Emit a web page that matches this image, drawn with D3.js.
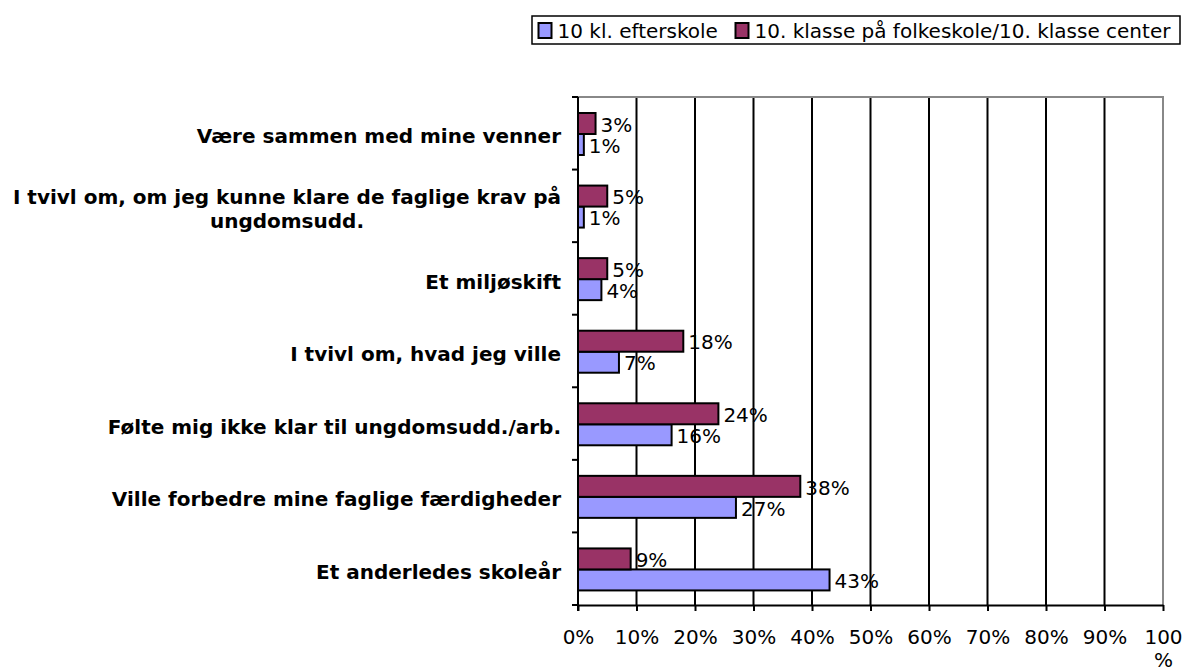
<!DOCTYPE html>
<html>
<head>
<meta charset="utf-8">
<script src="https://cdn.jsdelivr.net/npm/d3@7"></script>
<style>
  body { margin: 0; background: #fff; }
  text { font-family: "DejaVu Sans", Verdana, sans-serif; }
</style>
</head>
<body>
<script>
var categories = [
    ['Være sammen med mine venner'],
    ['I tvivl om, om jeg kunne klare de faglige krav på', 'ungdomsudd.'],
    ['Et miljøskift'],
    ['I tvivl om, hvad jeg ville'],
    ['Følte mig ikke klar til ungdomsudd./arb.'],
    ['Ville forbedre mine faglige færdigheder'],
    ['Et anderledes skoleår']
];
var seriesNames = ['10 kl. efterskole', '10. klasse på folkeskole/10. klasse center'];
var efterskole = [1, 1, 4, 7, 16, 27, 43];
var folkeskole = [3, 5, 5, 18, 24, 38, 9];
var tickValues = [0, 10, 20, 30, 40, 50, 60, 70, 80, 90, 100];
var colors = ['#9999ff', '#993366'];

var w = 1183, h = 671;
var pLeft = 578, pRight = 1163, pTop = 97, pBottom = 605;

var svg = d3.select('body').append('svg')
    .attr('width', w)
    .attr('height', h);

var x = d3.scaleLinear().domain([0, 100]).range([pLeft, pRight]);
var y = d3.scaleBand().domain(d3.range(categories.length)).range([pTop, pBottom]);
// maroon bar above blue bar in each group
var inner = d3.scaleBand().domain([1, 0]).range([16, 58]);

// gridlines
svg.selectAll('.grid')
    .data(tickValues.slice(1, -1))
    .enter().append('line')
    .attr('x1', function (d) { return x(d); })
    .attr('x2', function (d) { return x(d); })
    .attr('y1', pTop).attr('y2', pBottom)
    .attr('stroke', '#000').attr('stroke-width', 2);

// plot border (gray top/right)
svg.append('path')
    .attr('d', 'M' + pLeft + ',' + pTop + 'H' + pRight + 'V' + pBottom)
    .attr('fill', 'none').attr('stroke', '#888').attr('stroke-width', 2);

// bars
var rows = categories.map(function (c, i) {
    return [{ s: 0, v: efterskole[i], i: i }, { s: 1, v: folkeskole[i], i: i }];
});
var groups = svg.selectAll('.grp')
    .data(rows)
    .enter().append('g')
    .attr('transform', function (d, i) { return 'translate(0,' + y(i) + ')'; });

groups.selectAll('rect')
    .data(function (d) { return d; })
    .enter().append('rect')
    .attr('x', x(0))
    .attr('y', function (d) { return inner(d.s); })
    .attr('width', function (d) { return x(d.v) - x(0); })
    .attr('height', inner.bandwidth())
    .attr('fill', function (d) { return colors[d.s]; })
    .attr('stroke', '#000').attr('stroke-width', 2);

groups.selectAll('.val')
    .data(function (d) { return d; })
    .enter().append('text')
    .attr('x', function (d) { return x(d.v) + 5; })
    .attr('y', function (d) { return inner(d.s) + inner.bandwidth() / 2 + 1; })
    .attr('dy', '0.36em')
    .attr('font-size', 20)
    .text(function (d) { return d.v + '%'; });

// y axis with boundary ticks
svg.append('line')
    .attr('x1', pLeft).attr('x2', pLeft).attr('y1', pTop).attr('y2', pBottom + 6)
    .attr('stroke', '#000').attr('stroke-width', 2);
svg.selectAll('.ytick')
    .data(d3.range(categories.length + 1))
    .enter().append('line')
    .attr('x1', pLeft - 6).attr('x2', pLeft)
    .attr('y1', function (d) { return pTop + d * y.bandwidth(); })
    .attr('y2', function (d) { return pTop + d * y.bandwidth(); })
    .attr('stroke', '#000').attr('stroke-width', 2);

// category labels
categories.forEach(function (lines, i) {
    var cy = y(i) + y.bandwidth() / 2 + 3;
    var lh = 24;
    var t = svg.append('text')
        .attr('font-size', 20).attr('font-weight', 'bold')
        .attr('text-anchor', 'end');
    lines.forEach(function (l, k) {
        t.append('tspan')
            .attr('x', 561)
            .attr('y', cy + (k - (lines.length - 1) / 2) * lh)
            .attr('dy', '0.36em')
            .text(l);
    });
    if (lines.length > 1) {
        // centre each line inside the block
        var maxW = 0;
        t.selectAll('tspan').each(function () { maxW = Math.max(maxW, this.getComputedTextLength()); });
        t.attr('text-anchor', 'middle');
        t.selectAll('tspan').attr('x', 561 - maxW / 2);
    }
});

// x axis
var xAxis = svg.append('g')
    .attr('transform', 'translate(0,' + pBottom + ')')
    .call(d3.axisBottom(x).tickValues(tickValues).tickSize(6).tickSizeOuter(0)
        .tickFormat(function (d) { return d === 100 ? '100' : d + '%'; }));
xAxis.select('.domain').attr('stroke', '#000').attr('stroke-width', 2);
xAxis.selectAll('.tick line').attr('stroke', '#000').attr('stroke-width', 2);
xAxis.selectAll('.tick text')
    .attr('font-family', '"DejaVu Sans", Verdana, sans-serif')
    .attr('font-size', 20).attr('fill', '#000').attr('y', 32).attr('dy', '0.36em');
xAxis.selectAll('.tick').filter(function (d) { return d === 100; })
    .append('text')
    .attr('y', 55).attr('dy', '0.36em')
    .attr('text-anchor', 'middle')
    .attr('font-size', 20).attr('fill', '#000')
    .text('%');

// legend
var legend = svg.append('g');
legend.append('rect')
    .attr('x', 532).attr('y', 16).attr('width', 648).attr('height', 28)
    .attr('fill', '#fff').attr('stroke', '#000').attr('stroke-width', 1.5);
var legX = [538.5, 735.5];
seriesNames.forEach(function (n, i) {
    legend.append('rect')
        .attr('x', legX[i]).attr('y', 23).attr('width', 13).attr('height', 15)
        .attr('fill', colors[i]).attr('stroke', '#000').attr('stroke-width', 2);
    legend.append('text')
        .attr('x', legX[i] + 19).attr('y', 30.5).attr('dy', '0.36em')
        .attr('font-size', 20)
        .text(n);
});
</script>
</body>
</html>
